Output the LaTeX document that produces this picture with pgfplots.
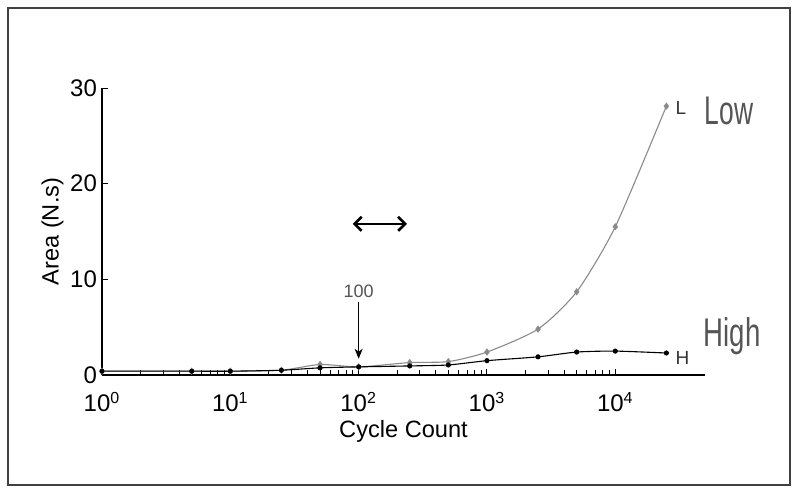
\documentclass[border=0pt]{standalone}
\usepackage{fontspec}
\setmainfont{Liberation Sans}
\usepackage{pgfplots}
\pgfplotsset{compat=1.18}
\usetikzlibrary{arrows.meta}
\definecolor{lowgray}{HTML}{8A8A8A}
\definecolor{txtgray}{HTML}{555555}

\pgfplotstableread{
cycles high low
1      0.40 0.40
5      0.40 0.40
10     0.40 0.40
25     0.50 0.50
50     0.75 1.10
100    0.85 0.85
250    0.95 1.30
500    1.05 1.40
1000   1.50 2.40
2500   1.90 4.80
5000   2.40 8.70
10000  2.50 15.50
25000  2.30 28.10
}\areadata

\begin{document}
\begin{tikzpicture}
% 1 px of the reference = 0.5pt
\useasboundingbox (0,0) rectangle (400pt,-247.5pt);
\draw[line width=0.9pt, black!75] (4pt,-4pt) rectangle (395pt,-242.5pt);

\begin{axis}[
    at={(51pt,-187.5pt)}, anchor=south west,
    scale only axis,
    width=301.5pt, height=143.5pt,
    xmode=log,
    xmin=1, xmax=50000,
    ymin=0, ymax=30,
    axis lines=left,
    axis line style={-, line width=0.6pt},
    tick align=inside,
    major tick length=2.8pt,
    minor tick length=2.3pt,
    tick style={line width=0.5pt, black},
    xtick={1,10,100,1000,10000},
    xticklabels={10\textsuperscript{0},10\textsuperscript{1},10\textsuperscript{2},10\textsuperscript{3},10\textsuperscript{4}},
    ytick={0,10,20,30},
    /pgf/number format/assume math mode=true,
    tick label style={font=\fontsize{12}{14}\selectfont},
    xticklabel style={yshift=-5pt},
    yticklabel style={xshift=1pt},
    xlabel={Cycle Count},
    ylabel={Area (N.s)},
    label style={font=\fontsize{11.8}{13}\selectfont},
    xlabel style={yshift=3pt},
    ylabel style={yshift=-3.5pt},
    clip=false,
]
\addplot[lowgray, line width=0.55pt, smooth, tension=0.4,
    mark=diamond*, mark size=1.4pt, mark options={fill=lowgray, draw=lowgray}]
    table[x=cycles, y=low] {\areadata};
\addplot[black, line width=0.55pt, smooth, tension=0.4,
    mark=*, mark size=1.0pt]
    table[x=cycles, y=high] {\areadata};

\node[anchor=west, font=\fontsize{9.5}{10}\selectfont, black!80] at (axis cs:26000,27.9) {L};
\node[anchor=west, font=\fontsize{9.5}{10}\selectfont, black!80] at (axis cs:26000,1.8) {H};
\node[font=\fontsize{9}{10}\selectfont, txtgray] at (axis cs:100,8.8) {100};
\draw[-{Stealth[length=5pt, width=4pt, inset=1.5pt]}, line width=0.5pt] (axis cs:100,7.6) -- (axis cs:100,1.7);
\draw[{Straight Barb[length=3.5pt, width=7pt]}-{Straight Barb[length=3.5pt, width=7pt]}, line width=1.3pt] (axis cs:90,15.8) -- (axis cs:238,15.8);
\end{axis}

\node[anchor=west, txtgray, xscale=0.66, font=\fontsize{20}{22}\selectfont] at (350pt,-55.5pt) {Low};
\node[anchor=west, txtgray, xscale=0.69, font=\fontsize{20}{22}\selectfont] at (349.5pt,-168pt) {High};
\end{tikzpicture}
\end{document}
